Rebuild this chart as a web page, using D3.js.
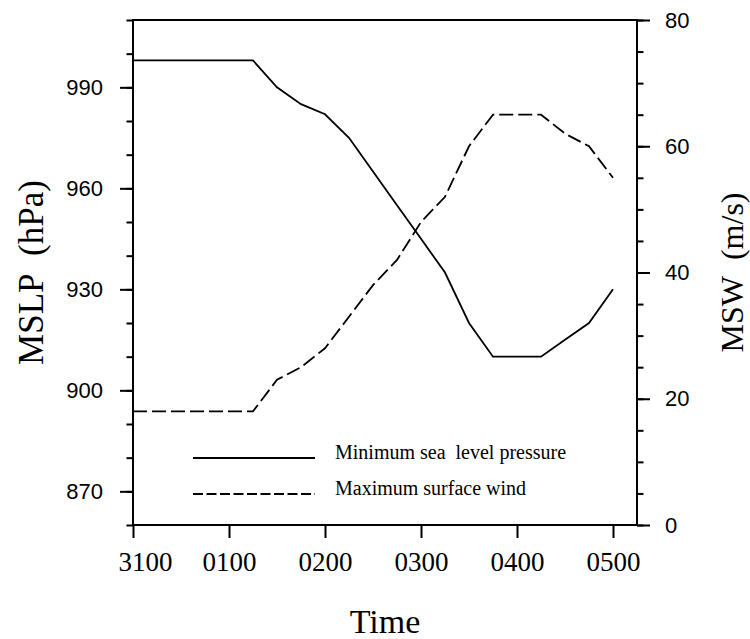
<!DOCTYPE html>
<html>
<head>
<meta charset="utf-8">
<script src="https://cdn.jsdelivr.net/npm/d3@7"></script>
<style>
  body { margin: 0; background: #fff; }
  .tick line { stroke: #000; stroke-width: 2; }
</style>
</head>
<body>
<div id="chart"></div>
<script>
// hours after 31st 00 UTC, every 15 min
var hours = [0, 0.25, 0.5, 0.75, 1, 1.25, 1.5, 1.75, 2, 2.25, 2.5, 2.75, 3, 3.25, 3.5, 3.75, 4, 4.25, 4.5, 4.75, 5];
var mslp = [998, 998, 998, 998, 998, 998, 990, 985, 982, 975, 965, 955, 945, 935, 920, 910, 910, 910, 915, 920, 930];
var msw = [18, 18, 18, 18, 18, 18, 23, 25, 28, 33, 38, 42, 48, 52, 60, 65, 65, 65, 62, 60, 55];
var timeTicks = [0, 1, 2, 3, 4, 5];
var timeLabels = ["3100", "0100", "0200", "0300", "0400", "0500"];
var pTicks = [870, 900, 930, 960, 990];
var wTicks = [0, 20, 40, 60, 80];
var legendNames = ["Minimum sea\u00a0\u00a0level pressure", "Maximum surface wind"];

var margin = {top: 20, right: 113, bottom: 114, left: 133}
  , width = 750 - margin.left - margin.right
  , height = 639 - margin.top - margin.bottom;

var xScale = d3.scaleLinear().domain([0, 5.25]).range([0, width]);
var yP = d3.scaleLinear().domain([860, 1010]).range([height, 0]);
var yW = d3.scaleLinear().domain([0, 80]).range([height, 0]);

var svg = d3.select("#chart").append("svg")
  .attr("width", 750)
  .attr("height", 639)
  .append("g")
  .attr("transform", "translate(" + margin.left + "," + margin.top + ")");

// minor ticks first
svg.append("g")
  .call(d3.axisLeft(yP).tickValues(d3.range(860, 1011, 10)).tickSize(6.5).tickFormat(""))
  .call(function(g) { g.select(".domain").remove(); });
svg.append("g")
  .attr("transform", "translate(" + width + ",0)")
  .call(d3.axisRight(yW).tickValues(d3.range(0, 81, 5)).tickSize(6.5).tickFormat(""))
  .call(function(g) { g.select(".domain").remove(); });

// major ticks with labels
var gl = svg.append("g")
  .call(d3.axisLeft(yP).tickValues(pTicks).tickSize(13).tickPadding(17).tickFormat(d3.format("d")));
gl.select(".domain").remove();
gl.selectAll("text").attr("font-family", "Liberation Sans, Arial, sans-serif").attr("font-size", 22).attr("fill", "#000");

var gr = svg.append("g")
  .attr("transform", "translate(" + width + ",0)")
  .call(d3.axisRight(yW).tickValues(wTicks).tickSize(13).tickPadding(15).tickFormat(d3.format("d")));
gr.select(".domain").remove();
gr.selectAll("text").attr("font-family", "Liberation Sans, Arial, sans-serif").attr("font-size", 22).attr("fill", "#000");

var gb = svg.append("g")
  .attr("transform", "translate(0," + height + ")")
  .call(d3.axisBottom(xScale).tickValues(timeTicks).tickSize(13).tickFormat(function(d, i) { return timeLabels[i]; }));
gb.select(".domain").remove();
gb.selectAll("text")
  .attr("font-family", "Liberation Serif, Times New Roman, serif")
  .attr("font-size", 27)
  .attr("fill", "#000")
  .attr("y", 46)
  .attr("dy", 0)
  .attr("dx", function(d, i) { return i === 0 ? 12 : 0; });

// frame
svg.append("rect")
  .attr("width", width)
  .attr("height", height)
  .attr("fill", "none")
  .attr("stroke", "#000")
  .attr("stroke-width", 2);

var lineP = d3.line()
  .x(function(d, i) { return xScale(hours[i]); })
  .y(function(d) { return yP(d); });
var lineW = d3.line()
  .x(function(d, i) { return xScale(hours[i]); })
  .y(function(d) { return yW(d); });

svg.append("path")
  .datum(mslp)
  .attr("fill", "none")
  .attr("stroke", "#000")
  .attr("stroke-width", 1.8)
  .attr("d", lineP);

svg.append("path")
  .datum(msw)
  .attr("fill", "none")
  .attr("stroke", "#000")
  .attr("stroke-width", 1.8)
  .attr("stroke-dasharray", "14,5")
  .attr("d", lineW);

// legend
var legend = svg.append("g").attr("transform", "translate(60,438)");
legendNames.forEach(function(name, i) {
  var row = legend.append("g").attr("transform", "translate(0," + (i * 36) + ")");
  row.append("line")
    .attr("x1", 0).attr("x2", 122)
    .attr("stroke", "#000")
    .attr("stroke-width", 1.8)
    .attr("stroke-dasharray", i === 0 ? null : "10,3.5");
  row.append("text")
    .attr("x", 142)
    .attr("y", 1)
    .attr("font-family", "Liberation Serif, Times New Roman, serif")
    .attr("font-size", 20)
    .text(name);
});

// axis titles
svg.append("text")
  .attr("transform", "translate(" + (43 - margin.left) + "," + (height / 2) + ") rotate(-90)")
  .attr("text-anchor", "middle")
  .attr("font-family", "Liberation Serif, Times New Roman, serif")
  .attr("font-size", 35)
  .text("MSLP\u00a0\u00a0(hPa)");

svg.append("text")
  .attr("transform", "translate(" + (width + 743 - 637) + "," + (height / 2) + ") rotate(-90)")
  .attr("text-anchor", "middle")
  .attr("font-family", "Liberation Serif, Times New Roman, serif")
  .attr("font-size", 32)
  .text("MSW\u00a0\u00a0(m/s)");

svg.append("text")
  .attr("x", width / 2)
  .attr("y", 633 - margin.top)
  .attr("text-anchor", "middle")
  .attr("font-family", "Liberation Serif, Times New Roman, serif")
  .attr("font-size", 34)
  .text("Time");
</script>
</body>
</html>
